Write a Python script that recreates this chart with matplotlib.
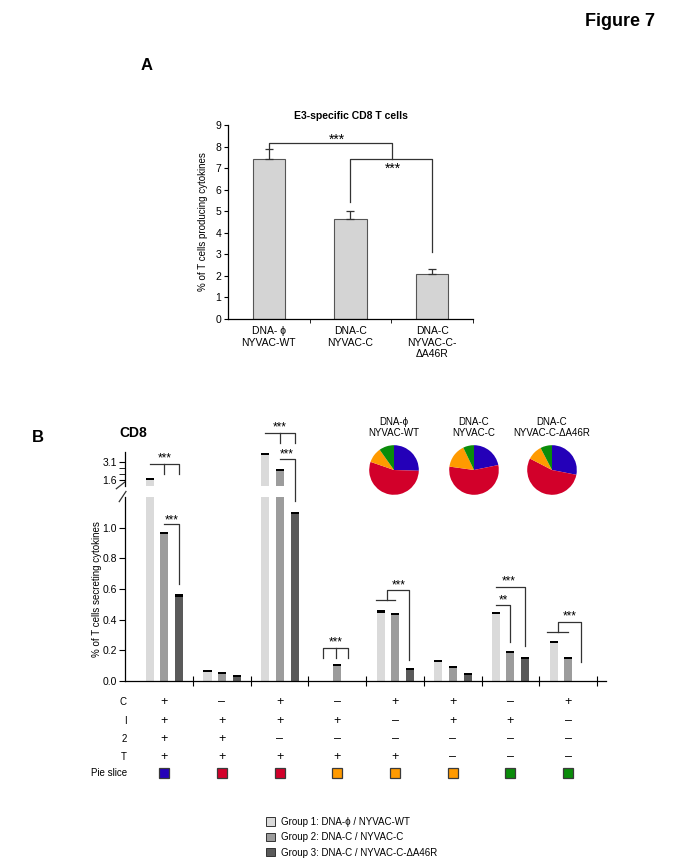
import matplotlib
matplotlib.use("Agg")
import matplotlib.pyplot as plt
import matplotlib.transforms as mtrans
import numpy as np

plt.rcParams["font.family"] = ["Liberation Sans", "DejaVu Sans"]
plt.rcParams["axes.linewidth"] = 0.9

# ---------------- DATA ----------------
# panel A
a_labels = ["DNA- \u03d5\nNYVAC-WT", "DNA-C\nNYVAC-C", "DNA-C\nNYVAC-C-\n\u0394A46R"]
a_values = [7.4, 4.65, 2.08]
a_errors = [0.5, 0.35, 0.22]

# panel B (8 cytokine combinations x 3 groups)
b_group1 = [1.80, 0.075, 3.85, 0.0, 0.46, 0.14, 0.45, 0.26]
b_group2 = [0.97, 0.060, 2.50, 0.11, 0.445, 0.097, 0.195, 0.155]
b_group3 = [0.565, 0.038, 1.10, 0.0, 0.088, 0.050, 0.157, 0.0]
group_names = ["Group 1: DNA-\u03d5 / NYVAC-WT",
               "Group 2: DNA-C / NYVAC-C",
               "Group 3: DNA-C / NYVAC-C-\u0394A46R"]

row_names = ["C", "I", "2", "T"]
row_signs = [
    "+-+-++-+",
    "++++-++-",
    "++------",
    "+++++---",
]
pie_slice = ["blue", "red", "red", "orange", "orange", "orange", "green", "green"]

pie_titles = ["DNA-\u03d5\nNYVAC-WT", "DNA-C\nNYVAC-C", "DNA-C\nNYVAC-C-\u0394A46R"]
pie_values = [
    [25.5, 54.8, 9.9, 9.8],
    [21.8, 55.4, 15.7, 7.1],
    [28.1, 54.5, 9.8, 7.6],
]

SLICE_COLORS = {"blue": "#2400b8", "red": "#d2002a", "orange": "#ff9a00", "green": "#0a8c0a"}
BAR_COLORS = ["#dadada", "#9c9c9c", "#5a5a5a"]

W, H = 683, 866
fig = plt.figure(figsize=(W / 100, H / 100), dpi=100)


def px_axes(x0, y0, x1, y1):
    # pixel box (top-left origin) -> figure axes
    return fig.add_axes([x0 / W, 1 - y1 / H, (x1 - x0) / W, (y1 - y0) / H])


fig.text(620 / W, 1 - 22 / H, "Figure 7", fontsize=13, fontweight="bold", ha="center", va="center")
fig.text(147 / W, 1 - 65 / H, "A", fontsize=12, fontweight="bold", ha="center", va="center")
fig.text(38 / W, 1 - 437 / H, "B", fontsize=12, fontweight="bold", ha="center", va="center")

# ---------------- PANEL A ----------------
axA = px_axes(228, 125, 473, 319)
xa = np.arange(len(a_values))
axA.bar(xa, a_values, width=0.4, color="#d4d4d4", edgecolor="#555555", linewidth=0.8, zorder=2)
axA.errorbar(xa, a_values, yerr=[np.zeros(len(a_errors)), a_errors], fmt="none",
             ecolor="#333333", elinewidth=0.9, capsize=3, capthick=0.9, zorder=3)
axA.set_xlim(-0.5, 2.5)
axA.set_ylim(0, 9)
axA.set_yticks(range(10))
axA.set_xticks(xa)
axA.set_xticklabels(a_labels, fontsize=7.5)
axA.set_xticks([0.5, 1.5, 2.5], minor=True)
axA.tick_params(axis="x", which="major", length=0, pad=5)
axA.tick_params(axis="x", which="minor", length=3, direction="out")
axA.tick_params(axis="y", labelsize=7.5, length=3, direction="out", pad=2)
for s in ["top", "right"]:
    axA.spines[s].set_visible(False)
axA.set_ylabel("% of T cells producing cytokines", fontsize=7, labelpad=5)
axA.set_title("E3-specific CD8 T cells", fontsize=7.5, fontweight="bold", pad=4)

lk = dict(color="#333333", lw=0.9, clip_on=False)
axA.plot([0, 0, 1.51, 1.51], [7.92, 8.15, 8.15, 7.4], **lk)
axA.text(0.83, 8.15, "***", fontsize=10, ha="center", va="baseline")
axA.plot([1, 1, 2, 2], [5.45, 7.4, 7.4, 3.1], **lk)
axA.text(1.52, 6.78, "***", fontsize=10, ha="center", va="baseline")

# ---------------- PANEL B ----------------
XLIM = (-0.68, 7.65)
axU = px_axes(125, 452, 605.6, 486)
axL = px_axes(125, 497, 605.6, 681)
xb = np.arange(len(b_group1))
offsets = [-0.25, 0.0, 0.26]
bw = 0.14

for ax, cap in [(axL, 0.014), (axU, 0.17)]:
    for k, vals in enumerate([b_group1, b_group2, b_group3]):
        vals = np.array(vals)
        ax.bar(xb + offsets[k], vals, width=bw, color=BAR_COLORS[k], linewidth=0,
               label=group_names[k] if ax is axL else None, zorder=2)
        m = vals > 0
        ax.bar((xb + offsets[k])[m], cap, bottom=vals[m] - cap, width=bw, color="black",
               linewidth=0, zorder=3)
    ax.set_xlim(*XLIM)
    for s in ["top", "right"]:
        ax.spines[s].set_visible(False)

axL.set_ylim(0, 1.2)
axL.set_yticks(np.arange(0, 1.01, 0.2))
axL.set_yticklabels([f"{v:.1f}" for v in np.arange(0, 1.01, 0.2)])
axL.tick_params(axis="y", labelsize=7.5, length=4, direction="out", pad=2)
axL.set_xticks(xb + 0.5)
axL.set_xticklabels([])
axL.tick_params(axis="x", length=7, direction="inout")
axL.set_ylabel("% of T cells secreting cytokines", fontsize=7, labelpad=0)

axU.set_ylim(1.1, 3.93)
axU.set_yticks([1.6, 3.1])
axU.set_yticklabels(["1.6", "3.1"])
axU.set_yticks([2.1, 2.6], minor=True)
axU.tick_params(axis="y", which="both", labelsize=7.5, length=4, direction="out", pad=2)
axU.spines["bottom"].set_visible(False)
axU.set_xticks([])

# axis break marks
axU.plot([-0.018, 0.0], [-0.08, 0.12], transform=axU.transAxes, color="#333333", lw=0.9, clip_on=False)
axL.plot([-0.012, 0.002], [0.975, 1.03], transform=axL.transAxes, color="#333333", lw=0.9, clip_on=False)

fig.text(133 / W, 1 - 433 / H, "CD8", fontsize=10, fontweight="bold", ha="center", va="center")

# significance brackets (lower-axis data units)
def bracket(xs, ys, star_x, star_y, stars="***"):
    axL.plot(xs, ys, **lk)
    axL.text(star_x, star_y, stars, fontsize=8.5, ha="center", va="bottom")

bracket([-0.25, 0.26, 0.26], [1.413, 1.413, 1.347], 0.0, 1.41)
axL.plot([0.0, 0.0], [1.413, 1.347], **lk)
bracket([0.0, 0.26, 0.26], [1.023, 1.023, 0.634], 0.13, 1.01)
bracket([1.75, 2.26, 2.26], [1.617, 1.617, 1.551], 2.0, 1.615)
axL.plot([2.0, 2.0], [1.617, 1.551], **lk)
bracket([2.0, 2.26, 2.26], [1.446, 1.446, 1.175], 2.13, 1.44)
bracket([2.75, 2.75, 3.19, 3.19], [0.15, 0.216, 0.216, 0.15], 2.98, 0.21)
axL.plot([2.98, 2.98], [0.216, 0.15], **lk)
axL.plot([3.67, 4.0], [0.530, 0.530], **lk)
bracket([3.86, 3.86, 4.25, 4.25], [0.530, 0.594, 0.594, 0.139], 4.06, 0.585)
bracket([5.75, 6.0, 6.0], [0.495, 0.495, 0.253], 5.87, 0.485, "**")
bracket([5.75, 6.26, 6.26], [0.616, 0.616, 0.226], 5.97, 0.61)
axL.plot([6.64, 6.99], [0.321, 0.321], **lk)
bracket([6.82, 6.82, 7.22, 7.22], [0.321, 0.387, 0.387, 0.121], 7.02, 0.38)

# sign table under the bars
tr = mtrans.blended_transform_factory(axL.transData, fig.transFigure)
row_y = [702, 721, 739, 757]
for name, signs, yp in zip(row_names, row_signs, row_y):
    yf = 1 - yp / H
    fig.text(127 / W, yf, name, fontsize=7, ha="right", va="center")
    for i, s in enumerate(signs):
        axL.text(xb[i], yf, "+" if s == "+" else "\u2013", fontsize=9, ha="center",
                 va="center", transform=tr, clip_on=False)
fig.text(127 / W, 1 - 773 / H, "Pie slice", fontsize=7, ha="right", va="center")
for i, c in enumerate(pie_slice):
    axL.plot([xb[i]], [1 - 773 / H], marker="s", markersize=7, color=SLICE_COLORS[c],
             markeredgecolor="#3a3a3a", markeredgewidth=0.9, transform=tr, clip_on=False)

# ---------------- PIES ----------------
for cx, title, vals in zip([394, 474, 552], pie_titles, pie_values):
    axp = px_axes(cx - 31, 439, cx + 31, 501)
    axp.pie(vals, colors=[SLICE_COLORS[c] for c in ["blue", "red", "orange", "green"]],
            startangle=90, counterclock=False, wedgeprops=dict(linewidth=0))
    axp.set_aspect("equal")
    axp.set_title(title, fontsize=7, pad=2, linespacing=1.1)

# ---------------- LEGEND ----------------
handles, labels = axL.get_legend_handles_labels()
fig.legend(handles, labels, loc="upper left", bbox_to_anchor=(262 / W, 1 - 813 / H),
           frameon=False, fontsize=7, handlelength=0.95, handleheight=0.95,
           handletextpad=0.6, labelspacing=0.55, borderaxespad=0)
for h in fig.legends[0].legend_handles:
    h.set_edgecolor("#333333")
    h.set_linewidth(0.7)

fig.savefig("out.png", dpi=100)
